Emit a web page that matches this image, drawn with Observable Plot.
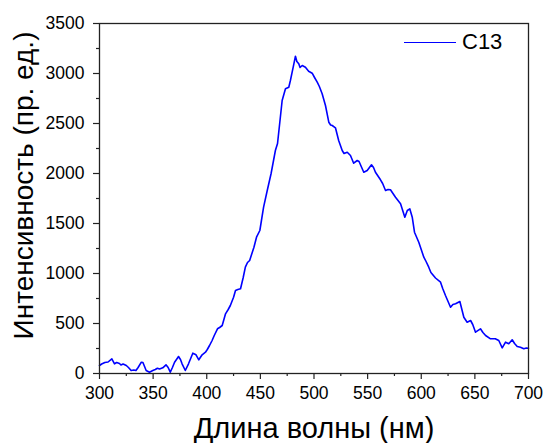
<!DOCTYPE html>
<html>
<head>
<meta charset="utf-8">
<script src="https://cdn.jsdelivr.net/npm/d3@7"></script>
<script src="https://cdn.jsdelivr.net/npm/@observablehq/plot@0.6"></script>
<style>
  html, body { margin: 0; padding: 0; background: #fff; }
  #wrap { position: relative; width: 545px; height: 443px; font-family: "Liberation Sans", Arial, sans-serif; }
  #wrap svg { font-family: "Liberation Sans", Arial, sans-serif; }
  #legend { position: absolute; left: 404px; top: 29px; display: flex; align-items: center; font-size: 22px; color: #000; }
  #legend .sw { width: 52px; height: 0; border-top: 1.5px solid #0000ff; margin-right: 6px; }
</style>
</head>
<body>
<div id="wrap"></div>
<script>
const wavelength = [300,302,305,308,311.5,314,316,318.6,320,322,325,327,329.5,332,334,336,339,340.5,343.5,346.6,349.7,352,354,356,359,362,364,366,368,370,373.7,375.5,377,380,383,385,387,390,392.6,395.7,398.8,400.5,402.6,405,407,410,412,414.4,416,417.5,420,422,425,426.8,429,431.5,434,436,438,440,444,446.4,449.5,451,453,456.4,460,464,466,468,470.3,473.4,476.5,478,480.6,482.7,484,485.8,487,489,492,495,498.3,500.5,503,505,507.6,510.7,513.8,515.5,517,520,523,526.3,528,531,534,537,540.3,542,546.4,549.6,553.6,555.5,557.3,562,564,566.7,569,571.3,576,580.7,583,584.7,587,589.3,591.6,593.7,597.7,602.4,604.5,607,609,613.3,618,620,622.6,625,627.3,629.5,632,636,639.7,642.8,646,648,650.6,655.2,657.5,660,664.6,669,672.3,675.5,678.6,681.6,684.8,687,689.5,692.5,695.6,698,700];
const intensity = [80,95,110,115,147,97,110,100,85,95,80,60,30,35,30,60,113,110,30,13,30,40,53,45,57,87,60,13,60,113,170,140,97,30,97,150,203,187,137,187,213,240,280,330,380,447,460,480,540,597,640,680,763,830,840,847,960,1063,1110,1130,1263,1363,1430,1530,1663,1830,2000,2230,2300,2500,2730,2847,2863,2930,3063,3173,3120,3097,3060,3080,3063,3023,3003,2960,2913,2870,2797,2680,2513,2485,2480,2457,2330,2230,2200,2213,2180,2103,2130,2120,2013,2030,2087,2060,2013,1937,1900,1830,1840,1837,1763,1697,1620,1563,1630,1647,1563,1413,1313,1163,1120,1063,1010,955,913,850,780,720,663,690,697,720,563,513,530,490,413,447,410,380,347,347,330,257,313,297,337,300,270,263,247,255,253];
const xTicks = [300,350,400,450,500,550,600,650,700];
const xMinor = [325,375,425,475,525,575,625,675];
const yTicks = [0,500,1000,1500,2000,2500,3000,3500];
const yMinor = [250,750,1250,1750,2250,2750,3250];
const xTitle = "Длина волны (нм)";
const yTitle = "Интенсивность (пр. ед.)";
const seriesName = "C13";

const data = wavelength.map((w, i) => ({w, v: intensity[i]}));

const chart = Plot.plot({
  width: 545,
  height: 443,
  marginLeft: 99,
  marginRight: 17,
  marginTop: 23,
  marginBottom: 70,
  x: {domain: [300, 700]},
  y: {domain: [0, 3500]},
  marks: [
    Plot.axisX({ticks: xTicks, tickFormat: "d", tickSize: 6, tickPadding: 7, fontSize: 17.5, label: null, stroke: "#222", strokeWidth: 1.2, color: "#000"}),
    Plot.axisX({ticks: xMinor, tickSize: 3, text: null, label: null, stroke: "#222", strokeWidth: 1.2}),
    Plot.axisY({ticks: yTicks, tickFormat: "d", tickSize: 6, tickPadding: 9, fontSize: 17.5, label: null, stroke: "#222", strokeWidth: 1.2, color: "#000"}),
    Plot.axisY({ticks: yMinor, tickSize: 3, text: null, label: null, stroke: "#222", strokeWidth: 1.2}),
    Plot.line(data, {x: "w", y: "v", stroke: "#0000ff", strokeWidth: 1.6}),
    Plot.frame({stroke: "#222", strokeWidth: 1.3}),
    Plot.text([xTitle], {frameAnchor: "bottom", textAnchor: "middle", dy: 64, fontSize: 29, fill: "#000"}),
    Plot.text([yTitle], {frameAnchor: "left", textAnchor: "middle", rotate: -90, dx: -75, dy: -13, fontSize: 28, fill: "#000"})
  ]
});

const wrap = document.getElementById("wrap");
wrap.appendChild(chart);
const legend = document.createElement("div");
legend.id = "legend";
legend.innerHTML = '<span class="sw"></span><span></span>';
legend.lastChild.textContent = seriesName;
wrap.appendChild(legend);
</script>
</body>
</html>
